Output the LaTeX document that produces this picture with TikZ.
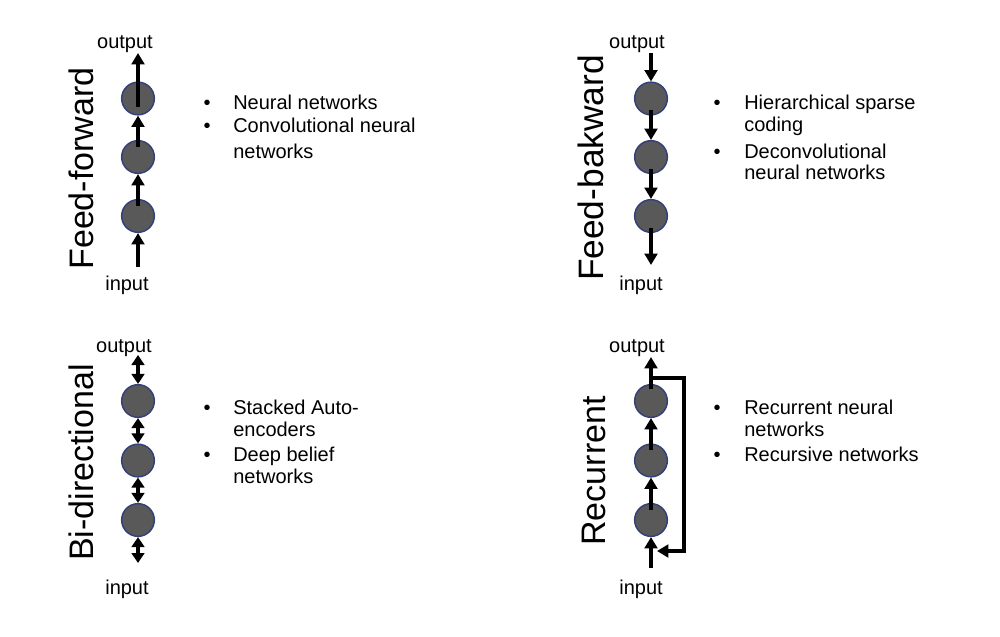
\documentclass[tikz,border=0pt]{standalone}
\usepackage{fontspec}
\setmainfont{Liberation Sans}
\usetikzlibrary{arrows.meta}
\definecolor{nfill}{HTML}{595959}
\definecolor{nedge}{HTML}{34407A}
\begin{document}
\begin{tikzpicture}[x=0.75pt,y=-0.75pt,
  neuron/.style={circle,fill=nfill,draw=nedge,line width=1.1pt,minimum size=24.5pt,inner sep=0pt},
  arr/.style={line width=2.8pt,-{Triangle[length=8.5pt,width=9.5pt]}},
  darr/.style={line width=2.8pt,{Triangle[length=7.5pt,width=9.5pt]}-{Triangle[length=7.5pt,width=9.5pt]}},
  lbl/.style={font=\fontsize{15}{18}\selectfont,anchor=base,inner sep=0pt},
  item/.style={font=\fontsize{15}{18}\selectfont,anchor=base west,inner sep=0pt},
  bul/.style={font=\fontsize{15}{18}\selectfont,anchor=base,inner sep=0pt},
  ttl/.style={font=\fontsize{25.5}{30}\selectfont,rotate=90,anchor=base,inner sep=0pt}]
\useasboundingbox (0,0) rectangle (1000,636);
\fill[white] (0,0) rectangle (1000,636);

% ---------- Panel 1: Feed-forward ----------
\node[ttl] (T1) at (93,168.5) {Feed-forward};
\node[neuron] (c11) at (138,98.5) {};
\node[neuron] (c12) at (138,157) {};
\node[neuron] (c13) at (138,216) {};
\coordinate (o1) at (138,53);
\coordinate (i1) at (138,267);
\draw[arr] (i1) -- (c13.south);
\draw[arr] ([yshift=-5pt]c13.north) -- (c12.south);
\draw[arr] ([yshift=-5pt]c12.north) -- (c11.south);
\draw[arr] ([yshift=-6pt]c11.center) -- (o1);
\node[lbl] (L1o) at (125,48) {output};
\node[lbl] (L1i) at (127,290) {input};
\node[bul] (b11) at (207,109) {•};
\node[item] (t11) at (233,109) {Neural networks};
\node[bul] (b12) at (207,132) {•};
\node[item] (t12) at (233,132) {Convolutional neural};
\node[item] (t13) at (233,158) {networks};

% ---------- Panel 2: Feed-bakward ----------
\node[ttl,font=\fontsize{26.5}{30}\selectfont] (T2) at (603,168) {Feed-bakward};
\node[neuron] (c21) at (651,98.5) {};
\node[neuron] (c22) at (651,157) {};
\node[neuron] (c23) at (651,216) {};
\coordinate (o2) at (651,53);
\coordinate (i2) at (651,265);
\draw[arr] (o2) -- (c21.north);
\draw[arr] ([yshift=4pt]c21.south) -- (c22.north);
\draw[arr] ([yshift=4pt]c22.south) -- (c23.north);
\draw[arr] ([yshift=4pt]c23.south) -- (i2);
\node[lbl] (L2o) at (637,48) {output};
\node[lbl] (L2i) at (641,290) {input};
\node[bul] (b21) at (717,109) {•};
\node[item] (t21) at (744,109) {Hierarchical sparse};
\node[item] (t22) at (744,131) {coding};
\node[bul] (b22) at (717,158) {•};
\node[item] (t23) at (744,158) {Deconvolutional};
\node[item] (t24) at (744,179) {neural networks};

% ---------- Panel 3: Bi-directional ----------
\node[ttl] (T3) at (93,462.5) {Bi-directional};
\node[neuron] (c31) at (138,401) {};
\node[neuron] (c32) at (138,460.5) {};
\node[neuron] (c33) at (138,520) {};
\coordinate (o3) at (138,355);
\coordinate (i3) at (138,563);
\draw[darr] (o3) -- (c31.north);
\draw[darr] (c31.south) -- (c32.north);
\draw[darr] (c32.south) -- (c33.north);
\draw[darr] (c33.south) -- (i3);
\node[lbl] (L3o) at (124,352) {output};
\node[lbl] (L3i) at (127,594) {input};
\node[bul] (b31) at (207,414) {•};
\node[item] (t31) at (233,414) {Stacked Auto-};
\node[item] (t32) at (233,436) {encoders};
\node[bul] (b32) at (207,461) {•};
\node[item] (t33) at (233,461) {Deep belief};
\node[item] (t34) at (233,483) {networks};

% ---------- Panel 4: Recurrent ----------
\node[ttl] (T4) at (605,471) {Recurrent};
\node[neuron] (c41) at (651,401) {};
\node[neuron] (c42) at (651,460.5) {};
\node[neuron] (c43) at (651,520) {};
\coordinate (o4) at (651,357);
\coordinate (i4) at (651,568);
\coordinate (fb0) at (651,378);
\coordinate (fbc) at (684,465);
\coordinate (fb1) at (657,551);
\draw[arr] (i4) -- (c43.south);
\draw[arr] ([yshift=-5pt]c43.north) -- (c42.south);
\draw[arr] ([yshift=-5pt]c42.north) -- (c41.south);
\draw[arr] ([yshift=-4pt]c41.north) -- (o4);
\draw[arr,line join=miter] (fb0) -- (fb0 -| fbc) -- (fbc |- fb1) -- (fb1);
\node[lbl] (L4o) at (637,352) {output};
\node[lbl] (L4i) at (641,594) {input};
\node[bul] (b41) at (717,414) {•};
\node[item] (t41) at (744,414) {Recurrent neural};
\node[item] (t42) at (744,436) {networks};
\node[bul] (b42) at (717,461) {•};
\node[item] (t43) at (744,461) {Recursive networks};
\end{tikzpicture}
\end{document}
